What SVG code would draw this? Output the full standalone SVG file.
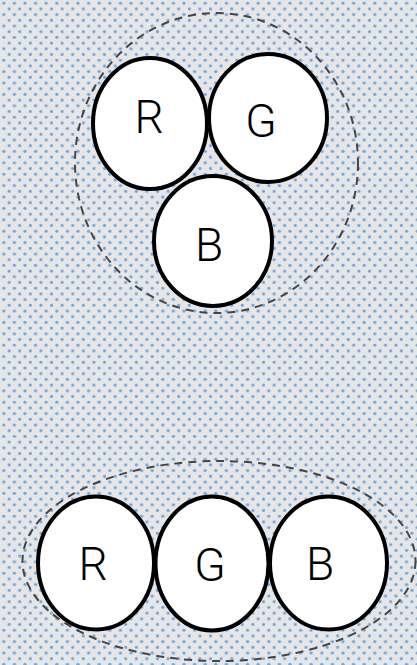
<svg xmlns="http://www.w3.org/2000/svg" width="417" height="665" viewBox="0 0 417 665">
  <defs>
    <pattern id="dots" x="0" y="0" width="10.6" height="11.4" patternUnits="userSpaceOnUse">
      <rect width="10.6" height="11.4" fill="#e6e6e6"/>
      <circle cx="3.8" cy="3.2" r="1.6" fill="#69a6e0"/>
      <circle cx="9.1" cy="8.9" r="1.6" fill="#69a6e0"/>
    </pattern>
  </defs>
  <style>
    .group { fill: none; stroke: #444444; stroke-width: 2; stroke-dasharray: 8 6; }
    .ball { fill: #ffffff; stroke: #000000; stroke-width: 4; }
    .lbl { font-family: Roboto, "Liberation Sans", sans-serif; font-weight: 300; font-size: 46px; fill: #000000; text-anchor: middle; }
  </style>
  <rect width="417" height="665" fill="url(#dots)"/>

  <g id="connectors"></g>

  <g id="triangle-group">
    <ellipse class="group" cx="216.5" cy="163" rx="141.5" ry="150"/>
  </g>
  <g id="top-B">
    <ellipse class="ball" cx="213" cy="241" rx="59" ry="65"/>
    <text class="lbl" x="209" y="261">B</text>
  </g>
  <g id="top-R">
    <ellipse class="ball" cx="150" cy="123.5" rx="57" ry="65.5"/>
    <text class="lbl" x="149" y="133">R</text>
  </g>
  <g id="top-G">
    <ellipse class="ball" cx="268" cy="118" rx="59" ry="64"/>
    <text class="lbl" x="261" y="137">G</text>
  </g>

  <g id="row-group">
    <ellipse class="group" cx="219" cy="561" rx="196.5" ry="100"/>
  </g>
  <g id="row-R">
    <ellipse class="ball" cx="96" cy="563" rx="58" ry="66.5"/>
    <text class="lbl" x="93" y="580">R</text>
  </g>
  <g id="row-G">
    <ellipse class="ball" cx="212" cy="563.5" rx="56.5" ry="67"/>
    <text class="lbl" x="210" y="581">G</text>
  </g>
  <g id="row-B">
    <ellipse class="ball" cx="328.5" cy="563" rx="58.5" ry="66.5"/>
    <text class="lbl" x="320" y="580">B</text>
  </g>
</svg>
